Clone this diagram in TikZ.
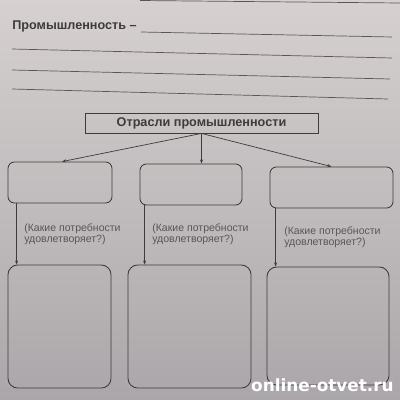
\documentclass[tikz,border=0pt]{standalone}
\usepackage{fontspec}
\setmainfont{Liberation Sans}
\newfontfamily\markfont{DejaVu Sans}
\usetikzlibrary{arrows.meta, fit, positioning}
\definecolor{paperhi}{HTML}{D6D1D0}
\definecolor{paperlo}{HTML}{ABA6A9}
\definecolor{ink}{HTML}{3E3B3D}
\definecolor{pencil}{HTML}{5A5658}

\tikzset{
	blank/.style={draw=pencil, line width=0.5pt},
	headbox/.style={draw=ink, line width=0.6pt, inner sep=0pt, minimum width=58.25mm, minimum height=5mm, font=\bfseries\fontsize{9}{10}\selectfont, text=ink},
	branch/.style={draw=ink, line width=0.6pt, inner sep=0pt, rounded corners=1.6mm},
	needs/.style={draw=ink, line width=0.6pt, inner sep=0pt, rounded corners=2.4mm},
	hint/.style={anchor=north west, align=left, inner sep=0pt, text=pencil, font=\fontsize{7.5}{8}\selectfont},
	arr/.style={draw=ink, line width=0.5pt, -{Stealth[length=3pt, width=2.2pt]}}
}

\begin{document}
\begin{tikzpicture}[x=0.25mm, y=-0.25mm]
	\useasboundingbox (0,0) rectangle (400,400);
	\shade [top color=paperhi, bottom color=paperlo] (0,0) rectangle (400,400);
	
	% definition with blank lines
	\draw [blank] (140,0.5) -- (400,3);
	\node [anchor=base west, inner sep=0pt, text=ink, font=\bfseries\fontsize{9}{10}\selectfont] (industry) at (12,29) {Промышленность –};
	\draw [blank] (141,32) -- (392,37);
	\draw [blank] (12,49) -- (392,58);
	\draw [blank] (12,70) -- (390,79);
	\draw [blank] (12,89) -- (388,99);
	
	% branches
	\node [headbox] (head) at (201.5,123) {Отрасли промышленности};
	\node [branch, fit={(8,162) (112,203)}] (b1) {};
	\node [branch, fit={(140,164) (242,205)}] (b2) {};
	\node [branch, fit={(270,167) (393,208)}] (b3) {};
	
	\draw [arr] (head.south) -- ([xshift=0.5mm]b1.north);
	\draw [arr] (head.south) -- (head.south |- b2.north);
	\draw [arr] (head.south) -- (b3.north);
	
	% needs
	\node [needs, fit={(8,265) (111,388)}] (n1) {};
	\node [needs, fit={(128,265) (251,388)}] (n2) {};
	\node [needs, fit={(267,267) (389,385)}] (n3) {};
	
	\draw [arr] (b1.south west) ++(9,0) coordinate (d1) -- (d1 |- n1.north);
	\draw [arr] (b2.south west) ++(5,0) coordinate (d2) -- (d2 |- n2.north);
	\draw [arr] (b3.south west) ++(6,0) coordinate (d3) -- (d3 |- n3.north);
	
	\node [hint] (q1) at (24,223) {(Какие потребности\\удовлетворяет?)};
	\node [hint] (q2) at (152,223) {(Какие потребности\\удовлетворяет?)};
	\node [hint] (q3) at (284,226) {(Какие потребности\\удовлетворяет?)};
	
	\node [anchor=base east, inner sep=0pt, text=white, font=\markfont\bfseries\fontsize{12}{13}\selectfont] (site) at (394,391) {online-otvet.ru};
\end{tikzpicture}
\end{document}
